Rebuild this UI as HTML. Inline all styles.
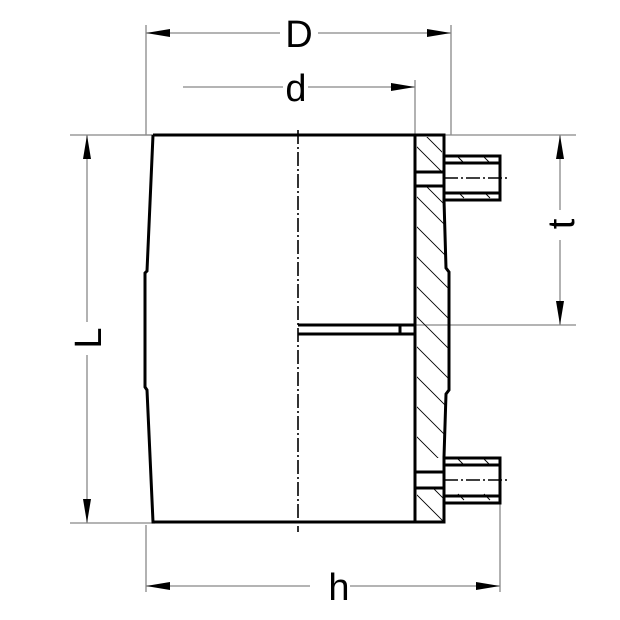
<!DOCTYPE html>
<html><head><style>body{margin:0;background:#fff}svg{display:block}</style></head><body>
<svg width="620" height="620" viewBox="0 0 620 620" xmlns="http://www.w3.org/2000/svg">
<defs>
<clipPath id="w1"><polygon points="417,137 442,137 442,172 417,172"/></clipPath>
<clipPath id="w2"><polygon points="417,186 444,186 446,268 449,272 449,390 446,394 444,458 417,458"/></clipPath>
<clipPath id="w3"><polygon points="417,488 444,488 444,521 417,521"/></clipPath>
</defs>
<g stroke="#888" stroke-width="1.3" fill="none">
<line x1="146" y1="25" x2="146" y2="135"/>
<line x1="451" y1="25" x2="451" y2="135"/>
<line x1="415" y1="80" x2="415" y2="135"/>
<line x1="130" y1="135" x2="155" y2="135"/>
<line x1="70" y1="135" x2="155" y2="135"/>
<line x1="444" y1="135" x2="576" y2="135"/>
<line x1="415" y1="325" x2="576" y2="325"/>
<line x1="70" y1="523" x2="155" y2="523"/>
<line x1="146" y1="525" x2="146" y2="592"/>
<line x1="500" y1="503" x2="500" y2="592"/>
<line x1="146" y1="33" x2="280" y2="33"/><line x1="318" y1="33" x2="451" y2="33"/>
<line x1="183" y1="87" x2="283" y2="87"/><line x1="308" y1="87" x2="415" y2="87"/>
<line x1="87" y1="135" x2="87" y2="322"/><line x1="87" y1="355" x2="87" y2="523"/>
<line x1="560" y1="135" x2="560" y2="210"/><line x1="560" y1="240" x2="560" y2="325"/>
<line x1="146" y1="586" x2="310" y2="586"/><line x1="350" y1="586" x2="500" y2="586"/>
</g>
<g fill="#000">
<polygon points="146,33 170,29 170,37"/><polygon points="451,33 427,29 427,37"/>
<polygon points="415,87 391,83 391,91"/>
<polygon points="87,135 83,159 91,159"/><polygon points="87,523 83,499 91,499"/>
<polygon points="560,135 556,159 564,159"/><polygon points="560,325 556,301 564,301"/>
<polygon points="146,586 170,582 170,590"/><polygon points="500,586 476,582 476,590"/>
</g>
<g font-family="Liberation Sans, sans-serif" font-size="38" fill="#000" text-anchor="middle">
<text x="299" y="47">D</text>
<text x="296" y="101">d</text>
<text x="339" y="600">h</text>
<text transform="translate(101,338) rotate(-90)">L</text>
<text transform="translate(574,224) rotate(-90)">t</text>
</g>
<g stroke="#000" stroke-width="0.9" clip-path="url(#w1)">
<path d="M400,130 l60,60 M420,130 l60,60"/>
</g>
<g stroke="#000" stroke-width="0.9" clip-path="url(#w2)">
<path d="M400,180 l60,60 M400,210 l60,60 M400,240 l60,60 M400,270 l60,60 M400,300 l60,60 M400,330 l60,60 M400,360 l60,60 M400,390 l60,60 M400,420 l60,60 M400,160 l60,60"/>
</g>
<g stroke="#000" stroke-width="0.9" clip-path="url(#w3)">
<path d="M400,478 l60,60 M415,470 l60,60"/>
</g>
<g stroke="#000" stroke-width="0.9">
<path d="M458,157 l6,6 M484,157 l6,6 M458,192 l6,6 M484,192 l6,6 M458,459 l6,6 M484,459 l6,6 M458,494 l6,6 M484,494 l6,6"/>
</g>
<g stroke="#000" stroke-width="3" fill="none" stroke-linejoin="miter">
<polyline points="153,135 444,135 444,156"/>
<polyline points="153,135 147,271 145,273 145,387 147,390 153,522 444,522 444,503"/>
<line x1="415" y1="135" x2="415" y2="522"/>
<line x1="298" y1="325" x2="415" y2="325"/>
<line x1="298" y1="334" x2="415" y2="334"/>
<line x1="400" y1="325" x2="400" y2="334"/>
<line x1="415" y1="172" x2="444" y2="172"/>
<line x1="415" y1="186" x2="444" y2="186"/>
<polyline points="444,200 446,268 449,272 449,390 446,394 444,457"/>
<line x1="415" y1="472" x2="444" y2="472"/>
<line x1="415" y1="488" x2="444" y2="488"/>
<rect x="444" y="156" width="56" height="44"/>
<rect x="444" y="458" width="56" height="45"/>
<line x1="444" y1="163" x2="500" y2="163"/>
<line x1="444" y1="193" x2="500" y2="193"/>
<line x1="444" y1="465" x2="500" y2="465"/>
<line x1="444" y1="496" x2="500" y2="496"/>
</g>
<g stroke="#000" stroke-width="1.6" stroke-dasharray="14,3,2,3">
<line x1="298" y1="130" x2="298" y2="532"/>
<line x1="444" y1="178" x2="508" y2="178"/>
<line x1="444" y1="480" x2="508" y2="480"/>
</g>
</svg>
</body></html>
